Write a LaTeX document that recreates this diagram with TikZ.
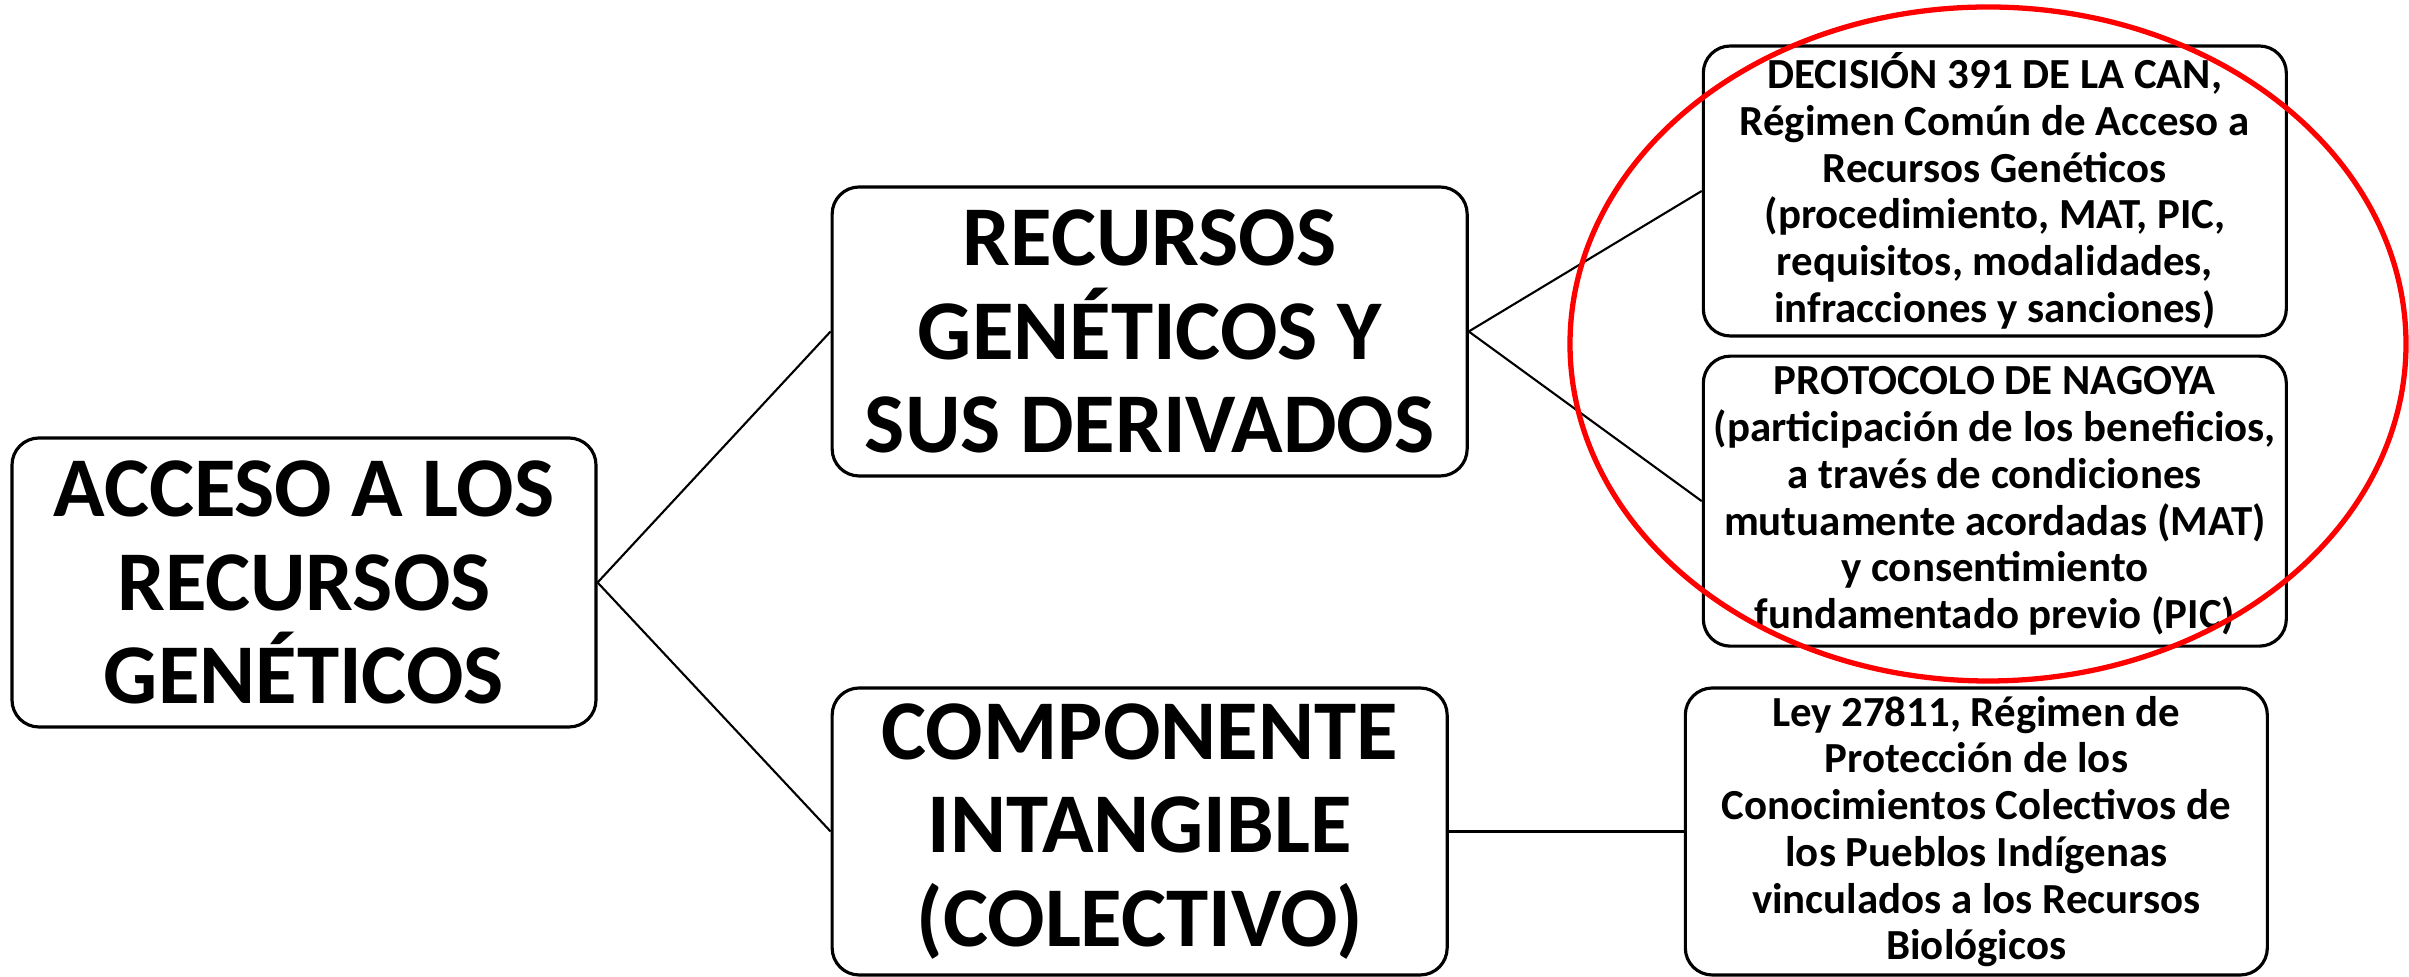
\documentclass[tikz,border=0pt]{standalone}
\usepackage{fontspec}
\setmainfont{Carlito}
\usepackage{tikz}
\usetikzlibrary{positioning}

\begin{document}
\begin{tikzpicture}[
    topic/.style={draw, fill=white, rounded corners=0.27cm, line width=0.9pt, minimum height=2.89cm, inner sep=0pt, align=center, font=\fontsize{24.2}{26.7}\selectfont\bfseries},
    law/.style={draw, fill=white, rounded corners=0.27cm, line width=0.9pt, minimum width=5.83cm, minimum height=2.9cm, inner sep=0pt, align=center, font=\fontsize{12.2}{13.3}\selectfont\bfseries},
    link/.style={line width=0.6pt}
]
    \useasboundingbox (0,0) rectangle (24.09,-9.77);
    \node [topic, minimum width=5.84cm] (acceso) at (3.04,-5.825) {ACCESO A LOS\\RECURSOS\\GENÉTICOS};
    \node [topic, minimum width=6.35cm, right=2.33cm of acceso, yshift=2.51cm] (recursos) {RECURSOS\\GENÉTICOS Y\\SUS DERIVADOS};
    \node [topic, minimum width=6.15cm, minimum height=2.87cm, right=2.33cm of acceso, yshift=-2.49cm] (componente) {COMPONENTE\\INTANGIBLE\\(COLECTIVO)};
    \node [law, right=2.33cm of recursos, yshift=1.405cm] (decision) {DECISIÓN 391 DE LA CAN,\\Régimen Común de Acceso a\\Recursos Genéticos\\(procedimiento, MAT, PIC,\\requisitos, modalidades,\\infracciones y sanciones)};
    \node [law, below=0.17cm of decision] (nagoya) {PROTOCOLO DE NAGOYA\\(participación de los beneficios,\\a través de condiciones\\mutuamente acordadas (MAT)\\y consentimiento\\fundamentado previo (PIC)};
    \node [law, minimum width=5.82cm, minimum height=2.87cm, right=2.35cm of componente] (ley) {Ley 27811, Régimen de\\Protección de los\\Conocimientos Colectivos de\\los Pueblos Indígenas\\vinculados a los Recursos\\Biológicos};

    \draw [link] (acceso.east) -- (recursos.west);
    \draw [link] (acceso.east) -- (componente.west);
    \draw [link] (recursos.east) -- (decision.west);
    \draw [link] (recursos.east) -- (nagoya.west);
    \draw [link] (componente.east) -- (ley.west);

    % red mark
    \draw [red, line width=1.5pt] (19.88,-3.44) ellipse [x radius=4.18cm, y radius=3.37cm];
\end{tikzpicture}
\end{document}
